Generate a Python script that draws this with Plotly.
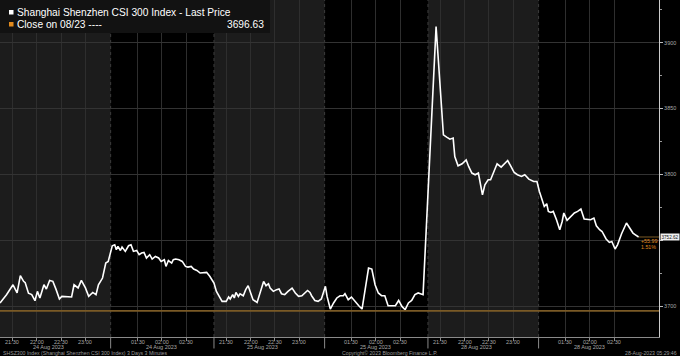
import plotly.graph_objects as go

# ---------------- data ----------------
# compressed trading-minute axis (3-minute bars), sessions back to back
session_dates = ["24 Aug 2023", "24 Aug 2023", "25 Aug 2023", "25 Aug 2023", "28 Aug 2023", "28 Aug 2023"]
session_kind = ["am", "pm", "am", "pm", "am", "pm"]
session_start = [0, 136, 263, 399, 526, 662]
session_end = [136, 263, 399, 526, 662, 789]
am_open = "21:15"
pm_open = "00:57"
am_ticks = ["21:30", "22:00", "22:30", "23:00"]
pm_ticks = ["01:30", "02:00", "02:30"]

minutes = [
    0, 8, 16, 21, 25, 29, 31, 35, 39, 43, 46, 49, 54, 57, 61, 65, 69, 73, 76, 82, 88, 91, 96, 100, 105, 109, 114, 118, 121, 126, 130, 133,
    138, 141, 143, 145, 148, 150, 154, 158, 161, 164, 168, 171, 174, 177, 180, 184, 187, 191, 195, 198, 202, 204, 207, 211, 213, 216, 220, 224, 228, 231, 235, 238, 242, 246, 250, 254, 258,
    263, 266, 273, 278, 281, 283, 286, 288, 290, 293, 295, 299, 302, 305, 308, 311, 316, 320, 324, 327, 330, 332, 336, 340, 343, 346, 350, 354, 359, 363, 367, 371, 374, 378, 381, 383, 387, 391, 395,
    400, 402, 406, 410, 414, 418, 422, 424, 428, 432, 436, 441, 445, 449, 453, 457, 461, 465, 469, 473, 477, 482, 486, 490, 494, 498, 502, 506, 510, 514, 520,
    536, 539, 542, 545, 549, 553, 557, 559, 563, 568, 573, 576, 580, 584, 588, 593, 596, 600, 603, 606, 611, 616, 620, 624, 628, 632, 636, 641, 645, 650, 656, 660,
    663, 666, 669, 672, 674, 677, 680, 684, 688, 691, 693, 697, 700, 703, 706, 710, 714, 718, 722, 726, 730, 733, 737, 740, 745, 749, 752, 756, 759, 764, 770, 775, 778, 781, 783, 785,
]
prices = [
    3702.6, 3708.9, 3716.4, 3710.2, 3723.3, 3719.0, 3718.0, 3710.0, 3709.0, 3704.3, 3711.4, 3706.4, 3716.4, 3713.2, 3719.7, 3719.0,
    3712.7, 3705.6, 3707.6, 3707.1, 3707.1, 3716.4, 3714.0, 3719.7, 3714.0, 3707.6, 3710.6, 3708.9, 3716.4, 3721.5, 3732.9, 3734.0,
    3746.0, 3746.7, 3743.0, 3745.5, 3742.4, 3745.0, 3741.7, 3746.0, 3746.7, 3741.7, 3742.4, 3739.2, 3740.5, 3740.9, 3736.7, 3739.2,
    3735.9, 3737.9, 3736.7, 3734.1, 3735.4, 3730.3, 3734.8, 3732.9, 3735.4, 3735.9, 3735.4, 3734.1, 3730.3, 3729.8, 3730.3, 3728.3,
    3727.3, 3725.3, 3725.8, 3725.8, 3722.7,
    3717.7, 3711.4, 3703.8, 3703.8, 3707.1, 3705.6, 3708.9, 3706.4, 3710.6, 3707.6, 3709.6, 3708.1, 3712.7, 3715.7, 3710.2, 3705.1,
    3703.0, 3711.4, 3718.9, 3715.7, 3717.2, 3713.9, 3711.4, 3712.7, 3713.2, 3709.6, 3708.9, 3711.4, 3713.9, 3710.2, 3707.6, 3708.1,
    3709.6, 3712.1, 3710.6, 3708.1, 3704.5, 3703.8, 3705.6,
    3715.2, 3707.6, 3698.0, 3702.6, 3706.4, 3708.1, 3708.1, 3709.6, 3705.1, 3707.1, 3703.8, 3700.5, 3698.0, 3715.2, 3729.1, 3728.3,
    3716.4, 3710.2, 3708.1, 3708.1, 3700.5, 3700.5, 3700.5, 3704.5, 3700.0, 3697.5, 3702.6, 3704.5, 3708.9, 3710.2, 3708.9,
    3912.1, 3886.9, 3854.1, 3830.1, 3828.3, 3826.8, 3827.6, 3813.6, 3806.6, 3808.1, 3811.1, 3806.1, 3801.1, 3799.8, 3801.1, 3784.6,
    3792.2, 3796.0, 3796.0, 3801.1, 3808.1, 3805.6, 3808.1, 3810.6, 3806.1, 3801.5, 3799.8, 3798.5, 3799.8, 3796.5, 3794.7, 3794.7,
    3787.1, 3780.8, 3775.8, 3777.8, 3772.0, 3771.2, 3772.0, 3765.7, 3758.1, 3764.4, 3770.8, 3765.2, 3767.0, 3768.7, 3770.8, 3772.0,
    3773.8, 3766.2, 3765.7, 3765.7, 3767.0, 3761.1, 3758.1, 3756.8, 3751.1, 3748.5, 3749.2, 3743.5, 3746.7, 3755.1, 3763.2, 3758.6,
    3755.6, 3754.3, 3753.6, 3752.62,
]
prev_close = 3696.63
last_price = 3752.62
change = 55.99
change_pct = 1.51
y_ticks = [3700, 3750, 3800, 3850, 3900]

title_text = "Shanghai Shenzhen CSI 300 Index - Last Price"
close_text = "Close on 08/23 ----"
footer_left = "SHSZ300 Index (Shanghai Shenzhen CSI 300 Index) 3 Days 3 Minutes"
footer_mid = "Copyright\u00a9 2023 Bloomberg Finance L.P."
footer_right = "28-Aug-2023 05:29:46"

# ---------------- helpers ----------------
def hm(s):
    h, m = s.split(":")
    return int(h) * 60 + int(m)

def offset(t, open_t):
    d = hm(t) - hm(open_t)
    if d < 0:
        d += 24 * 60
    return d

tick_vals, tick_text = [], []
date_pos = []
for st, kind in zip(session_start, session_kind):
    if kind == "am":
        for t in am_ticks:
            tick_vals.append(st + offset(t, am_open)); tick_text.append(t)
        date_pos.append(st + (offset("22:00", am_open) + offset("22:30", am_open)) / 2)
    else:
        for t in pm_ticks:
            tick_vals.append(st + offset(t, pm_open)); tick_text.append(t)
        date_pos.append(st + offset("02:00", pm_open))

# the last-price box covers the 3750 label, as in the original
y_text = ["" if abs(v - last_price) < 8 else str(v) for v in y_ticks]

X_MAX = 810
Y_MIN, Y_MAX = 3676.8, 3932.3
PLOT_W, PLOT_H = 659, 337

def px_x(p):
    return p / PLOT_W

def px_y(p):
    return 1 - p / PLOT_H

FONT = "Liberation Sans, Arial, sans-serif"
AX_COL = "#a8a8a8"
CLOSE_COL = "#7a5a26"

fig = go.Figure()
fig.add_trace(go.Scatter(x=minutes, y=prices, mode="lines",
                         line=dict(color="#ffffff", width=1.6), hoverinfo="skip"))

shapes = []
for st, en, kind in zip(session_start, session_end, session_kind):
    if kind == "am":
        shapes.append(dict(type="rect", xref="x", yref="paper", x0=st, x1=en, y0=0, y1=1,
                           fillcolor="#1c1c1c", line=dict(width=0), layer="below"))
for st in session_start[1:]:
    shapes.append(dict(type="line", xref="x", yref="paper", x0=st, x1=st, y0=0, y1=1,
                       line=dict(color="#3c3c3c", width=1, dash="dot"), layer="below"))
    shapes.append(dict(type="line", xref="x", yref="paper", x0=st, x1=st, y0=-0.034, y1=0,
                       line=dict(color="#8a8a8a", width=1), layer="above"))
shapes.append(dict(type="line", xref="paper", yref="y", x0=0, x1=1, y0=prev_close, y1=prev_close,
                   line=dict(color=CLOSE_COL, width=1.6), layer="above"))
shapes.append(dict(type="line", xref="x", yref="y", x0=minutes[-1], x1=X_MAX, y0=last_price, y1=last_price,
                   line=dict(color=CLOSE_COL, width=1), layer="above"))
shapes.append(dict(type="rect", xref="paper", yref="paper", x0=0, x1=px_x(270), y0=px_y(33), y1=1,
                   fillcolor="#121212", line=dict(width=0), layer="above"))
shapes.append(dict(type="rect", xref="paper", yref="paper", x0=px_x(9), x1=px_x(13.5), y0=px_y(14.5), y1=px_y(10),
                   fillcolor="#ffffff", line=dict(width=0), layer="above"))
shapes.append(dict(type="rect", xref="paper", yref="paper", x0=px_x(9), x1=px_x(13.5), y0=px_y(26.5), y1=px_y(22),
                   fillcolor="#e08a1e", line=dict(width=0), layer="above"))

ann = []
ann.append(dict(xref="paper", yref="paper", x=px_x(15), y=px_y(12), xanchor="left", yanchor="middle",
                text=title_text, showarrow=False, font=dict(family=FONT, size=10.2, color="#ffffff")))
ann.append(dict(xref="paper", yref="paper", x=px_x(15), y=px_y(24), xanchor="left", yanchor="middle",
                text=close_text, showarrow=False, font=dict(family=FONT, size=10.2, color="#ffffff")))
ann.append(dict(xref="paper", yref="paper", x=px_x(266), y=px_y(24), xanchor="right", yanchor="middle",
                text=f"{prev_close:.2f}", showarrow=False, font=dict(family=FONT, size=10.2, color="#ffffff")))
for v, t in zip(tick_vals, tick_text):
    ann.append(dict(xref="x", yref="paper", x=v, y=px_y(341.5), xanchor="center", yanchor="middle",
                    text=t, showarrow=False, font=dict(family=FONT, size=5.5, color=AX_COL)))
for v, d in zip(date_pos, session_dates):
    ann.append(dict(xref="x", yref="paper", x=v, y=px_y(347), xanchor="center", yanchor="middle",
                    text=d, showarrow=False, font=dict(family=FONT, size=5.5, color=AX_COL)))
ann.append(dict(xref="paper", yref="paper", x=px_x(1), y=px_y(352.5), xanchor="left", yanchor="middle",
                text=footer_left, showarrow=False, font=dict(family=FONT, size=5.2, color="#9a9a9a")))
ann.append(dict(xref="paper", yref="paper", x=px_x(340), y=px_y(352.5), xanchor="left", yanchor="middle",
                text=footer_mid, showarrow=False, font=dict(family=FONT, size=5.2, color="#9a9a9a")))
ann.append(dict(xref="paper", yref="paper", x=px_x(679), y=px_y(352.5), xanchor="right", yanchor="middle",
                text=footer_right, showarrow=False, font=dict(family=FONT, size=5.2, color="#9a9a9a")))
ann.append(dict(xref="paper", yref="y", x=px_x(679.5), y=last_price, xanchor="right", yanchor="middle",
                text=f"{last_price:.2f}", showarrow=False, bgcolor="#f0f0f0", borderpad=0.5,
                font=dict(family=FONT, size=4.6, color="#111111")))
ann.append(dict(xref="paper", yref="y", x=px_x(639), y=last_price, yshift=-4, xanchor="left", yanchor="middle",
                text=f"+{change:.2f}", showarrow=False, font=dict(family=FONT, size=5.3, color="#e08a1e")))
ann.append(dict(xref="paper", yref="y", x=px_x(639), y=last_price, yshift=-10, xanchor="left", yanchor="middle",
                text=f"{change_pct:.2f}%", showarrow=False, font=dict(family=FONT, size=5.3, color="#e08a1e")))

fig.update_layout(
    width=680, height=356,
    margin=dict(l=0, r=21, t=0, b=19),
    paper_bgcolor="#000000", plot_bgcolor="#000000",
    showlegend=False,
    shapes=shapes, annotations=ann,
    xaxis=dict(range=[0, X_MAX], tickmode="array", tickvals=tick_vals, ticktext=tick_text,
               showticklabels=False, ticks="outside", ticklen=3, tickcolor="#8a8a8a",
               showgrid=True, gridcolor="#2e2e2e", gridwidth=1, zeroline=False,
               showline=True, linecolor="#8a8a8a", linewidth=1, fixedrange=True),
    yaxis=dict(range=[Y_MIN, Y_MAX], side="right", tickmode="array", tickvals=y_ticks, ticktext=y_text,
               ticks="outside", ticklen=3, tickcolor="#bbbbbb",
               tickfont=dict(family=FONT, size=5.5, color=AX_COL),
               minor=dict(tickmode="linear", tick0=3675, dtick=25, ticks="outside", ticklen=2, tickcolor="#999999", showgrid=False),
               showgrid=True, gridcolor="#333333", gridwidth=1, zeroline=False,
               showline=True, linecolor="#cccccc", linewidth=1, fixedrange=True),
)

fig.write_html("out.html")
